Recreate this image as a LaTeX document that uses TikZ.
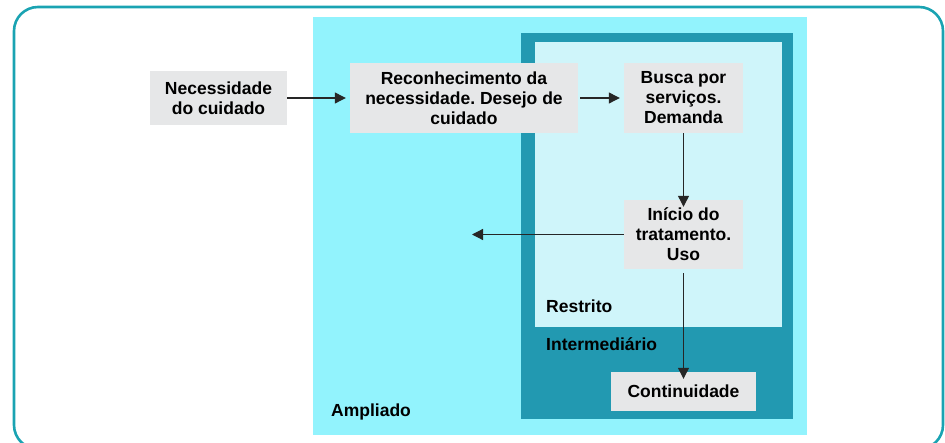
\documentclass[tikz,border=0pt]{standalone}
\usepackage{fontspec}
\setmainfont{Liberation Sans}
\usetikzlibrary{arrows.meta}

\definecolor{framecol}{HTML}{1AA3B2}
\definecolor{amplcol}{HTML}{92F3FD}
\definecolor{intercol}{HTML}{2299B1}
\definecolor{restcol}{HTML}{CFF5FA}
\definecolor{boxcol}{HTML}{E6E7E8}

\frenchspacing

\tikzset{
  stepbox/.style={fill=boxcol,inner sep=0pt,align=center,
    font=\fontsize{17.5}{20}\selectfont\bfseries},
  zonelabel/.style={anchor=west,inner sep=0pt,
    font=\fontsize{17.5}{20}\selectfont\bfseries},
  flow/.style={-{Triangle[length=11pt,width=11pt]},line width=1.2pt,
    draw=black!85}
}

\begin{document}
\begin{tikzpicture}
    [x=1pt,y=-1pt]

    \useasboundingbox (0,0) rectangle (945,443);

    % outer frame:
    \draw [framecol,line width=2.6pt,rounded corners=24pt] (14,7) rectangle (943,449);

    % zones:
    \fill [amplcol] (313,17) rectangle (807,435);
    \fill [intercol] (521,33) rectangle (793,419);
    \fill [restcol] (535,42) rectangle (782,327);

    % zone labels:
    \node (restrito) at (546,306) [zonelabel] {Restrito};
    \node (intermed) at (546,344) [zonelabel] {Intermediário};
    \node (ampliado) at (331,412) [zonelabel] {Ampliado};

    % steps:
    \node (necess) at (218.5,98) [stepbox,minimum width=137pt,minimum height=54pt]
      {Necessidade\\do cuidado};
    \node (reconh) at (464,98) [stepbox,minimum width=228pt,minimum height=70pt]
      {Reconhecimento da\\necessidade. Desejo de\\cuidado};
    \node (busca) at (683.5,98) [stepbox,minimum width=119pt,minimum height=70pt]
      {Busca por\\serviços.\\Demanda};
    \node (inicio) at (683.5,234.5) [stepbox,minimum width=119pt,minimum height=69pt]
      {Início do\\tratamento.\\Uso};
    \node (contin) at (683.5,391.5) [stepbox,minimum width=145pt,minimum height=39pt]
      {Continuidade};

    % free end:
    \coordinate (saida) at (472,234.5);

    % connect nodes:
    \draw [flow] (necess) to ([xshift=-4pt]reconh.west);
    \draw [flow] ([xshift=2pt]reconh.east) to ([xshift=-4pt]busca.west);
    \draw [flow] (busca) to ([yshift=-7pt]inicio.north);
    \draw [flow] (inicio) to (saida);
    \draw [flow] ([yshift=-4pt]inicio.south) to ([yshift=-7pt]contin.north);

  \end{tikzpicture}
\end{document}
